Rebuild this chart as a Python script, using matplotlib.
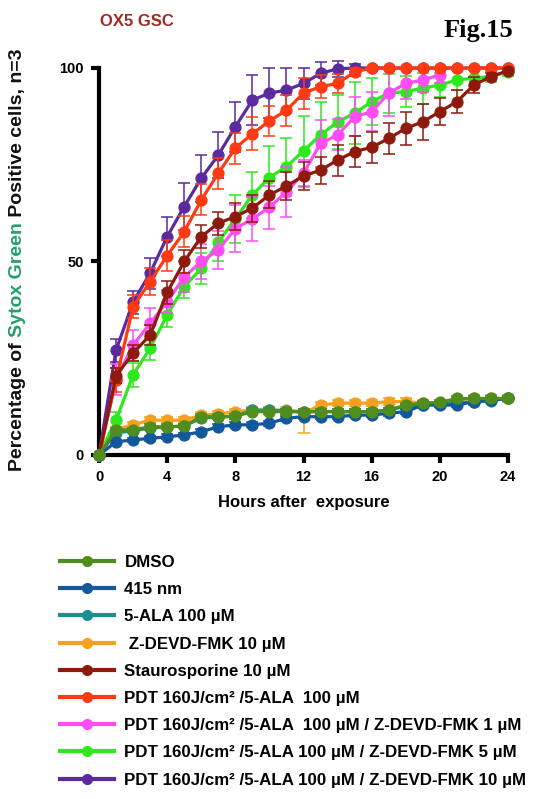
import numpy as np
import matplotlib
matplotlib.use("Agg")
import matplotlib.pyplot as plt
from matplotlib.lines import Line2D

plt.rcParams['font.family'] = ['Liberation Sans', 'DejaVu Sans']
plt.rcParams['font.weight'] = 'bold'

# Datos (horas 0..24)
hours = list(range(25))

dmso = [0, 6.5, 6.5, 7.3, 7.3, 7.5, 9.9, 9.9, 10.0, 11.2, 11.2, 11.2, 11.2, 11.2, 11.2, 11.2,
        11.2, 11.6, 12.9, 13.4, 13.6, 14.6, 14.6, 14.6, 14.6]
nm415 = [0, 3.4, 3.9, 4.3, 4.7, 5.2, 6.0, 7.3, 7.8, 7.8, 8.2, 9.5, 9.9, 9.9, 9.9, 10.3,
         10.3, 10.8, 11.2, 12.9, 12.9, 12.9, 13.8, 14.2, 14.6]
ala = [0, 5.8, 6.2, 7.0, 7.2, 7.5, 9.5, 9.8, 10.0, 11.6, 11.6, 11.4, 11.2, 11.2, 11.2, 11.2,
       11.2, 11.6, 12.6, 13.0, 13.2, 13.6, 13.6, 14.0, 14.7]
zdevd = [0, 6.5, 7.8, 9.0, 9.0, 9.0, 10.3, 10.6, 11.2, 11.6, 11.6, 11.6, 10.8, 12.9, 13.4,
         13.4, 13.4, 13.8, 13.8, 13.4, 13.4, 14.2, 14.6, 14.6, 14.6]
stauro = [0, 20.5, 26.3, 31.0, 42.0, 50.0, 56.4, 59.9, 61.6, 63.8, 67.2, 69.5, 72.1, 73.6,
          76.2, 78.4, 79.5, 81.8, 84.4, 86.1, 88.7, 91.3, 95.6, 97.8, 99.3]
pdt = [0, 19.4, 38.3, 44.8, 51.5, 57.7, 65.9, 72.8, 79.3, 83.0, 86.3, 89.1, 93.5, 95.2, 96.0,
       99.0, 100, 100, 100, 100, 100, 100, 100, 100, 100]
pdt_z1 = [0, 19.5, 28.4, 34.0, 39.6, 46.0, 50.0, 53.0, 58.5, 61.0, 64.0, 68.0, 72.8, 80.5,
          82.7, 87.4, 88.7, 93.5, 96.0, 96.9, 98.2]
pdt_z5 = [0, 9.0, 20.7, 27.6, 36.2, 43.5, 48.2, 55.0, 61.0, 67.2, 71.7, 74.5, 78.6, 82.7,
          86.1, 88.3, 91.3, 93.5, 93.9, 94.8, 95.6, 96.9, 97.4, 97.8, 99.0]
pdt_z10 = [0, 27.1, 39.5, 47.0, 56.4, 64.2, 71.5, 77.5, 84.8, 91.7, 93.5, 94.3, 96.0, 98.6,
           99.8, 100, 100, 100, 100, 100, 100, 100, 100, 100, 100]

# Errores (SEM)
err_small = [0] + [0.6] * 24
zdevd_lo = [0] + [0.8] * 11 + [5.2] + [0.8] * 12
zdevd_hi = [0] + [0.8] * 11 + [1.0] + [0.8] * 12
stauro_err = [0, 2, 2, 2.5, 3, 3, 3, 3, 3.5, 3.5, 3.5, 3.5, 3.5, 3.5, 4, 4, 4, 4, 4.3, 4.7,
              3.5, 3, 2, 1, 0.5]
pdt_err = [0, 3, 3, 3.5, 4, 4, 4, 4, 4, 4.3, 4, 4, 4, 3, 2.5, 1, 0, 0, 0, 0, 0, 0, 0, 0, 0]
pdt_z1_err = [0, 4, 4, 4, 3, 4, 4.5, 5, 6, 5.6, 5.6, 6.5, 3.5, 6, 4, 5, 5, 6, 4, 3, 2]
pdt_z5_err = [0, 2, 3, 3, 3, 3, 4, 5, 6.2, 6, 8.2, 7.5, 9, 8.6, 7, 8, 6, 5, 4, 4, 3, 2.5, 2,
              1.5, 1]
pdt_z10_err = [0, 3, 3, 4, 5, 6, 6, 6, 6.5, 6.5, 6.5, 5.6, 3.9, 3, 2, 1, 0, 0, 0, 0, 0, 0, 0,
               0, 0]

labels = ["DMSO", "415 nm", "5-ALA 100 \u00b5M", " Z-DEVD-FMK 10 \u00b5M",
          "Staurosporine 10 \u00b5M",
          "PDT 160J/cm\u00b2 /5-ALA  100 \u00b5M",
          "PDT 160J/cm\u00b2 /5-ALA  100 \u00b5M / Z-DEVD-FMK 1 \u00b5M",
          "PDT 160J/cm\u00b2 /5-ALA 100 \u00b5M / Z-DEVD-FMK 5 \u00b5M",
          "PDT 160J/cm\u00b2 /5-ALA 100 \u00b5M / Z-DEVD-FMK 10 \u00b5M"]
colores = ["#4f8d1c", "#13589c", "#1b9090", "#f7a020", "#8e1a0e",
           "#ff3a12", "#ff4cf5", "#2ee81e", "#5a2a9e"]
series = [dmso, nm415, ala, zdevd, stauro, pdt, pdt_z1, pdt_z5, pdt_z10]
errores = [err_small, err_small, err_small, [zdevd_lo, zdevd_hi], stauro_err, pdt_err,
           pdt_z1_err, pdt_z5_err, pdt_z10_err]

# Se crea la figura
fig = plt.figure(figsize=(5.35, 7.99), dpi=100)
ax = fig.add_axes([99 / 535, 1 - 455 / 799, 409 / 535, 387 / 799])

handles = []
for i in range(len(series)):
    y = series[i]
    x = hours[:len(y)]
    z = 20 - i
    ax.errorbar(x, y, yerr=errores[i], fmt='none', ecolor=colores[i], elinewidth=1.1,
                capsize=4, capthick=1.1, zorder=z, clip_on=False)
    ax.plot(x, y, '-o', color=colores[i], lw=2.3, ms=7.8, zorder=z, clip_on=False)
    handles.append(Line2D([0], [0], color=colores[i], lw=3, marker='o', ms=7))

ax.set_xlim(0, 24)
ax.set_ylim(0, 100)
ax.set_xticks([0, 4, 8, 12, 16, 20, 24])
ax.set_yticks([0, 50, 100])
for s in ['top', 'right']:
    ax.spines[s].set_visible(False)
for s in ['left', 'bottom']:
    ax.spines[s].set_linewidth(3)
ax.tick_params(width=3, length=6, labelsize=10.5, pad=5)
ax.set_xlabel("Hours after  exposure", fontsize=12, fontweight='bold', labelpad=8)

# Etiqueta del eje y con "Sytox Green" en verde
partes = [("Percentage of ", "#111111"), ("Sytox Green", "#22a06a"),
          (" Positive cells, n=3", "#111111")]
fig.canvas.draw()
r = fig.canvas.get_renderer()
ypos = 1 - 471 / 799
for txt, c in partes:
    t = fig.text(18 / 535, ypos, txt, rotation=90, ha='center', va='bottom', color=c,
                 fontsize=14, fontweight='bold')
    bb = t.get_window_extent(renderer=r)
    ypos += bb.height / fig.bbox.height

fig.text(100 / 535, 1 - 22 / 799, "OX5 GSC", color="#a02a26", fontsize=12, fontweight='bold',
         va='center', ha='left')
fig.text(513 / 535, 1 - 30 / 799, "Fig.15", family='Liberation Serif', fontsize=19,
         fontweight='bold', va='center', ha='right')

fig.legend(handles, labels, loc='upper left', bbox_to_anchor=(60 / 535, 1 - 555 / 799),
           frameon=False, fontsize=12.2, handlelength=3.2, handletextpad=0.6,
           labelspacing=0.72, borderpad=0, borderaxespad=0)

fig.savefig('out.png', dpi=100)
